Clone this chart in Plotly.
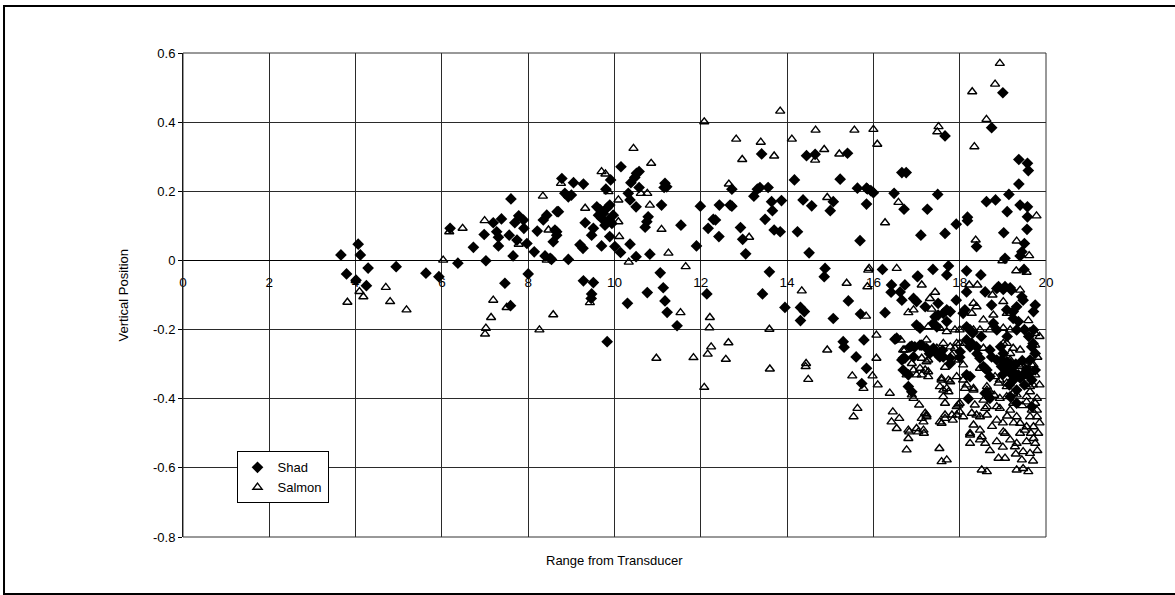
import plotly.graph_objects as go

# Shad detections: (range from transducer, vertical position)
shad = [
    (3.66, 0.016), (4.06, 0.047), (4.11, 0.016), (3.79, -0.039), (4.29, -0.022), (4.01, -0.057),
    (4.25, -0.073), (4.94, -0.018), (5.63, -0.037), (5.93, -0.047), (6.37, -0.008), (6.19, 0.093),
    (6.73, 0.038), (7.02, -0.001), (6.98, 0.075), (7.19, 0.109), (7.38, 0.12), (7.27, 0.083),
    (7.31, 0.067), (7.31, 0.042), (7.56, 0.073), (7.60, 0.178), (7.69, 0.109), (7.78, 0.129),
    (7.89, 0.117), (7.90, 0.093), (7.74, 0.059), (7.97, 0.049), (7.65, 0.013), (8.14, 0.025),
    (8.21, 0.085), (8.35, 0.117), (8.43, 0.131), (8.67, 0.141), (8.39, 0.013), (8.51, 0.006),
    (7.46, -0.066), (8.0, -0.039), (7.59, -0.131), (8.66, 0.083),
    (8.78, 0.237), (9.05, 0.225), (9.28, 0.221), (8.85, 0.194), (8.93, 0.184), (9.0, 0.189),
    (8.70, 0.141), (9.32, 0.109), (8.62, 0.088), (8.66, 0.073), (8.58, 0.054), (8.93, 0.003),
    (8.54, 0.003), (9.2, 0.045), (9.27, 0.035), (9.47, 0.073), (9.51, 0.093), (9.59, 0.155),
    (9.67, 0.146), (9.74, 0.136), (9.82, 0.151), (9.89, 0.160), (9.70, 0.122), (9.86, 0.117),
    (9.97, 0.131), (9.78, 0.102), (9.94, 0.107), (9.63, 0.131), (9.70, 0.042), (9.89, 0.069),
    (10.01, 0.040), (10.14, 0.023), (10.36, 0.047), (10.5, 0.011), (10.15, 0.271), (10.38, 0.225),
    (10.51, 0.252), (10.57, 0.257), (10.47, 0.240), (10.57, 0.211), (10.32, 0.194), (10.36, 0.175),
    (10.5, 0.155), (9.91, 0.233), (9.80, 0.206), (10.78, 0.126), (10.75, 0.112), (10.71, 0.096),
    (10.82, 0.018), (11.09, 0.160), (11.17, 0.223), (11.21, 0.213), (11.15, 0.211), (11.54, 0.102),
    (11.90, 0.042), (11.99, 0.157), (12.43, 0.160), (12.17, 0.093), (12.29, 0.119), (12.34, 0.117),
    (12.42, 0.069), (12.68, 0.160), (12.72, 0.157), (12.72, 0.206), (12.92, 0.095), (12.97, 0.061),
    (13.04, 0.019), (13.23, 0.186), (13.31, 0.206), (13.37, 0.211), (13.56, 0.211), (13.41, 0.308),
    (13.49, 0.119), (13.64, 0.170), (13.66, 0.144), (13.87, 0.173), (13.70, 0.088), (13.84, 0.083),
    (14.17, 0.233), (14.24, 0.083), (14.37, 0.175), (14.57, 0.158), (14.51, 0.022), (14.45, 0.303),
    (14.65, 0.307), (15.23, 0.235), (15.40, 0.310), (15.07, 0.170), (15.0, 0.144), (15.63, 0.209),
    (15.84, 0.209), (15.84, 0.163), (15.69, 0.057),
    (9.28, -0.059), (9.51, -0.064), (9.47, -0.097), (9.46, -0.11), (10.30, -0.124), (10.76, -0.093),
    (11.06, -0.036), (11.13, -0.079), (11.17, -0.117), (12.14, -0.097), (13.43, -0.097), (13.59, -0.033),
    (13.95, -0.136), (14.88, -0.023), (14.86, -0.047), (15.42, -0.117),
    (11.22, -0.150), (11.45, -0.189), (9.83, -0.235), (14.31, -0.136), (14.40, -0.148), (14.31, -0.174),
    (15.07, -0.168), (15.70, -0.155), (15.30, -0.235), (15.32, -0.251), (15.78, -0.230), (15.60, -0.279),
    (15.84, -0.312), (15.73, -0.356),
    (15.86, 0.207), (15.94, 0.202), (16.0, 0.196), (16.66, 0.254), (16.76, 0.254), (16.48, 0.194),
    (16.71, 0.148), (17.25, 0.148), (17.49, 0.191), (17.10, 0.073), (17.66, 0.078), (17.92, 0.105),
    (17.66, 0.360), (19.0, 0.485), (18.74, 0.384), (18.18, 0.125), (18.18, 0.115), (18.39, 0.040),
    (18.62, 0.170), (18.83, 0.175), (19.10, 0.141), (19.14, 0.191), (19.02, 0.080), (19.37, 0.292),
    (19.57, 0.281), (19.59, 0.260), (19.37, 0.221), (19.40, 0.160), (19.57, 0.155), (19.57, 0.126),
    (19.56, 0.090), (19.50, 0.049), (19.44, 0.025), (19.40, 0.013), (19.05, 0.006), (19.49, -0.026),
    (16.21, -0.026), (17.02, -0.047), (17.38, -0.026), (17.74, -0.016), (18.16, -0.030), (18.49, -0.042),
    (16.42, -0.071), (16.73, -0.071), (16.41, -0.092), (16.62, -0.091), (18.59, -0.091), (18.16, -0.091),
    (18.86, -0.081), (19.01, -0.084), (19.20, -0.086), (19.44, -0.105), (19.47, -0.115), (16.66, -0.115),
    (16.93, -0.110), (17.0, -0.119), (17.20, -0.134), (17.50, -0.124), (17.70, -0.143), (17.78, -0.148),
    (17.92, -0.115), (18.12, -0.143), (18.74, -0.129), (19.09, -0.143), (19.24, -0.148), (19.32, -0.134),
    (19.75, -0.129), (19.71, -0.148), (16.27, -0.151), (17.43, -0.163), (17.50, -0.158), (17.62, -0.153),
    (17.0, -0.187), (17.08, -0.196), (17.39, -0.182), (17.47, -0.192), (17.70, -0.177), (18.08, -0.153),
    (18.16, -0.192), (18.24, -0.201), (18.78, -0.182), (18.86, -0.201), (19.24, -0.168), (19.36, -0.177),
    (19.32, -0.201), (19.71, -0.201), (16.54, -0.225), (16.50, -0.228), (17.12, -0.245), (16.96, -0.250),
    (16.89, -0.248), (17.23, -0.254), (17.39, -0.259), (17.50, -0.274), (17.62, -0.279), (17.78, -0.283),
    (18.16, -0.230), (18.28, -0.240), (18.39, -0.250), (18.70, -0.259), (18.74, -0.279), (18.97, -0.288),
    (19.09, -0.293), (19.17, -0.298), (19.63, -0.288), (19.75, -0.269), (19.67, -0.250), (16.66, -0.288),
    (16.73, -0.283), (16.93, -0.279), (18.55, -0.307), (18.59, -0.312), (16.69, -0.317), (16.81, -0.331),
    (18.97, -0.307), (19.09, -0.317), (19.24, -0.322), (19.36, -0.331), (19.55, -0.317), (19.75, -0.317),
    (18.16, -0.331), (18.24, -0.336), (18.70, -0.336), (19.24, -0.346), (19.67, -0.346), (16.81, -0.365),
    (18.59, -0.384), (18.70, -0.399), (19.17, -0.394), (19.32, -0.413), (19.67, -0.423), (16.89, -0.380),
    (18.2, -0.40), (17.03, -0.045), (17.70, -0.042), (18.90, -0.076), (19.05, -0.076), (19.17, -0.079),
    (16.69, -0.283), (16.85, -0.250), (17.08, -0.245), (17.39, -0.254), (17.54, -0.279), (17.78, -0.298),
    (18.01, -0.264), (18.24, -0.250), (18.47, -0.283), (18.63, -0.317), (18.86, -0.288), (19.17, -0.317),
    (19.24, -0.346), (19.47, -0.331), (19.32, -0.375), (18.63, -0.384), (19.01, -0.269),
    (19.20, -0.330), (19.30, -0.300), (19.45, -0.290), (19.50, -0.360), (19.60, -0.330), (19.40, -0.340),
    (19.15, -0.360), (19.00, -0.330), (18.95, -0.250), (19.60, -0.220), (19.70, -0.240), (19.10, -0.220),
    (19.50, -0.200), (17.30, -0.270), (17.60, -0.260), (18.00, -0.280), (18.40, -0.270), (18.30, -0.210),
    (18.50, -0.220),
]

# Salmon detections: (range from transducer, vertical position)
salmon = [
    (3.81, -0.121), (4.09, -0.09), (4.18, -0.105), (4.0, -0.058), (4.70, -0.078), (4.80, -0.119),
    (5.18, -0.143), (6.03, 0.001), (6.17, 0.083), (6.48, 0.093), (6.99, 0.115), (7.19, -0.115),
    (7.14, -0.165), (7.02, -0.196), (7.0, -0.213), (7.50, -0.136), (7.78, 0.047), (8.26, -0.201),
    (8.58, -0.157), (8.34, 0.186), (8.43, 0.001), (8.47, 0.088),
    (8.76, 0.223), (9.32, 0.151), (9.70, 0.257), (9.79, 0.250), (9.86, 0.199), (10.09, 0.175),
    (10.09, 0.112), (10.11, 0.069), (10.33, -0.005), (10.44, 0.324), (10.61, 0.194), (10.76, 0.194),
    (10.82, 0.160), (10.85, 0.281), (11.09, 0.090), (11.25, 0.021), (11.65, -0.018), (12.08, 0.401),
    (12.65, 0.221), (12.82, 0.351), (12.96, 0.292), (13.12, 0.067), (13.39, 0.342), (13.70, 0.302),
    (13.84, 0.432), (14.11, 0.351), (14.34, -0.088), (14.66, 0.377), (14.65, 0.290), (14.86, 0.321),
    (14.93, 0.182), (15.21, 0.308), (15.56, 0.377), (15.38, -0.066), (15.88, -0.028),
    (9.43, -0.122), (11.53, -0.151), (10.97, -0.283), (11.83, -0.281), (12.21, -0.165), (12.20, -0.195),
    (12.24, -0.250), (12.16, -0.271), (12.64, -0.238), (12.58, -0.286), (12.08, -0.367), (13.59, -0.199),
    (13.60, -0.314), (14.44, -0.298), (14.43, -0.307), (14.49, -0.344), (14.93, -0.259), (15.51, -0.334),
    (15.83, -0.161), (15.98, -0.334), (15.77, -0.370), (15.63, -0.428), (15.54, -0.452), (16.07, -0.216),
    (16.07, -0.283), (16.1, -0.36),
    (18.93, 0.570), (18.82, 0.510), (18.29, 0.488), (18.62, 0.408), (18.34, 0.329), (17.51, 0.387),
    (17.48, 0.372), (16.0, 0.379), (16.09, 0.336), (16.58, 0.168), (16.27, 0.109), (19.78, 0.129),
    (18.37, 0.059), (19.32, 0.056), (19.61, 0.014), (18.99, -0.001), (19.31, -0.030), (19.55, -0.034),
    (15.90, -0.023), (16.54, -0.023),
    (15.86, -0.076), (17.12, -0.071), (17.43, -0.092), (18.22, -0.071), (18.41, -0.071), (18.76, -0.100),
    (19.40, -0.086), (16.81, -0.151), (16.93, -0.143), (17.31, -0.110), (17.35, -0.141), (18.32, -0.124),
    (18.39, -0.134), (18.28, -0.153), (19.01, -0.119), (19.09, -0.153), (18.55, -0.172), (18.78, -0.158),
    (19.59, -0.174), (16.63, -0.230), (17.27, -0.192), (17.54, -0.196), (17.70, -0.206), (17.89, -0.201),
    (18.0, -0.201), (18.32, -0.201), (18.47, -0.201), (18.70, -0.201), (19.01, -0.196), (19.17, -0.201),
    (19.63, -0.206), (19.75, -0.211), (16.73, -0.259), (17.23, -0.230), (17.47, -0.254), (17.78, -0.250),
    (17.89, -0.254), (18.0, -0.240), (18.55, -0.254), (19.09, -0.240), (19.24, -0.254), (19.40, -0.259),
    (19.75, -0.245), (17.12, -0.283), (17.27, -0.288), (17.66, -0.309), (18.08, -0.302), (18.47, -0.312),
    (19.17, -0.288), (19.44, -0.302), (19.67, -0.302), (16.77, -0.331), (17.0, -0.331), (17.12, -0.331),
    (17.27, -0.336), (16.93, -0.317), (17.20, -0.317), (17.58, -0.341), (17.74, -0.346), (17.93, -0.336),
    (18.08, -0.346), (18.12, -0.370), (18.32, -0.370), (17.54, -0.365), (17.70, -0.370), (18.82, -0.336),
    (18.93, -0.346), (19.09, -0.355), (19.32, -0.331), (19.47, -0.336), (19.75, -0.331), (19.63, -0.365),
    (16.38, -0.384), (16.89, -0.389), (16.93, -0.399), (18.63, -0.365), (18.70, -0.380), (19.24, -0.384),
    (16.45, -0.438), (16.42, -0.467), (16.60, -0.457), (16.54, -0.486), (17.06, -0.418), (17.20, -0.442),
    (17.23, -0.452), (17.16, -0.467), (16.83, -0.496), (16.81, -0.515), (17.04, -0.496), (17.17, -0.500),
    (16.77, -0.548), (17.66, -0.447), (17.58, -0.471), (17.84, -0.462), (18.0, -0.413), (17.93, -0.447),
    (18.08, -0.452), (17.53, -0.544), (17.58, -0.582), (17.70, -0.577), (18.24, -0.500), (18.24, -0.529),
    (18.47, -0.491), (18.51, -0.510), (18.59, -0.529), (18.39, -0.447), (18.63, -0.447), (18.35, -0.418),
    (18.86, -0.462), (18.86, -0.524), (18.90, -0.572), (19.05, -0.572), (18.51, -0.606), (18.63, -0.611),
    (19.05, -0.500), (19.17, -0.519), (19.28, -0.539), (19.32, -0.606), (19.47, -0.602), (19.59, -0.611),
    (19.44, -0.577), (19.63, -0.558), (19.47, -0.553), (19.75, -0.529), (19.82, -0.500), (19.71, -0.481),
    (19.79, -0.452), (19.67, -0.433), (19.75, -0.413), (19.17, -0.433), (19.32, -0.452), (19.40, -0.471),
    (19.51, -0.491), (19.55, -0.524), (19.09, -0.394), (19.24, -0.413), (19.55, -0.394), (19.63, -0.380),
    (18.55, -0.404), (18.63, -0.423), (18.93, -0.399), (18.86, -0.423), (17.62, -0.394), (17.66, -0.413),
    (17.93, -0.423),
    (16.69, -0.259), (16.89, -0.298), (17.08, -0.312), (17.27, -0.322), (17.23, -0.293), (17.62, -0.240),
    (17.93, -0.240), (18.12, -0.240), (17.82, -0.274), (17.97, -0.288), (17.58, -0.346), (17.78, -0.351),
    (17.62, -0.375), (17.74, -0.380), (18.16, -0.360), (18.32, -0.375), (18.63, -0.375), (18.70, -0.394),
    (19.01, -0.240), (19.17, -0.269), (19.40, -0.307), (19.55, -0.307), (19.71, -0.302), (18.90, -0.355),
    (19.09, -0.365), (19.32, -0.389), (19.55, -0.409), (19.79, -0.399), (16.81, -0.491), (17.00, -0.486),
    (17.16, -0.491), (17.12, -0.457), (17.23, -0.447), (17.54, -0.467), (17.66, -0.457), (17.82, -0.447),
    (17.97, -0.418), (18.00, -0.438), (18.28, -0.442), (18.47, -0.452), (18.32, -0.476), (18.59, -0.428),
    (18.93, -0.428), (18.24, -0.505), (18.47, -0.519), (19.01, -0.496), (19.32, -0.529), (19.55, -0.481),
    (19.63, -0.452), (19.79, -0.433), (19.71, -0.515),
    (19.85, -0.470), (19.80, -0.550), (19.70, -0.580), (19.85, -0.360), (19.80, -0.280), (19.85, -0.220),
    (19.70, -0.360), (19.65, -0.500), (19.40, -0.500), (19.25, -0.470), (19.10, -0.450), (19.00, -0.470),
    (18.75, -0.480), (18.80, -0.390), (19.45, -0.420), (19.30, -0.560), (19.00, -0.540), (18.70, -0.550),
]

shad_x = [p[0] for p in shad]
shad_y = [p[1] for p in shad]
salmon_x = [p[0] for p in salmon]
salmon_y = [p[1] for p in salmon]

x_ticks = [0, 2, 4, 6, 8, 10, 12, 14, 16, 18, 20]
y_ticks = [0.6, 0.4, 0.2, 0, -0.2, -0.4, -0.6, -0.8]
y_tick_text = ["0.6", "0.4", "0.2", "0", "-0.2", "-0.4", "-0.6", "-0.8"]

FONT = "Arial, Liberation Sans, sans-serif"
GRID = "#2a2a2a"

fig = go.Figure()
fig.add_trace(go.Scatter(
    x=shad_x, y=shad_y, mode="markers", name="Shad",
    marker=dict(symbol="diamond", size=9, color="black", line=dict(width=0)),
))
fig.add_trace(go.Scatter(
    x=salmon_x, y=salmon_y, mode="markers", name="Salmon",
    marker=dict(symbol="triangle-up-open", size=8, color="black", line=dict(width=1.4, color="black")),
))

y_min, y_max = -0.8, 0.6

fig.update_layout(
    width=1175, height=595,
    margin=dict(l=183, r=129, t=53, b=58),
    paper_bgcolor="white", plot_bgcolor="white",
    font=dict(family=FONT, size=13, color="black"),
    showlegend=True,
    legend=dict(
        x=0.062, y=0.177, xanchor="left", yanchor="top",
        bordercolor="black", borderwidth=1, bgcolor="white",
        font=dict(family=FONT, size=13, color="black"),
        itemwidth=30, tracegroupgap=0,
    ),
    xaxis=dict(
        range=[0, 20], tickvals=x_ticks, ticktext=[str(v) for v in x_ticks],
        showgrid=True, gridcolor=GRID, gridwidth=1,
        zeroline=False, showline=True, linecolor="black", linewidth=1,
        anchor="free", position=(0 - y_min) / (y_max - y_min),
        ticks="", ticklabelstandoff=9,
        tickfont=dict(family=FONT, size=13.5, color="black"),
    ),
    yaxis=dict(
        range=[y_min, y_max], tickvals=y_ticks, ticktext=y_tick_text,
        showgrid=True, gridcolor=GRID, gridwidth=1,
        zeroline=True, zerolinecolor="black", zerolinewidth=1,
        showline=True, linecolor="black", linewidth=1,
        ticks="outside", ticklen=4, tickcolor="black",
        tickfont=dict(family=FONT, size=13, color="black"),
    ),
    shapes=[
        # plot-area frame
        dict(type="rect", xref="paper", yref="paper", x0=0, y0=0, x1=1, y1=1,
             line=dict(color="#333333", width=1)),
        # outer chart frame
        dict(type="rect", xref="paper", yref="paper",
             x0=-0.2074, y0=-0.1178, x1=1.25, y1=1.097,
             line=dict(color="black", width=2)),
    ],
    annotations=[
        dict(text="Vertical Position", xref="paper", yref="paper",
             x=-0.080, y=0.5, textangle=-90, showarrow=False,
             font=dict(family=FONT, size=13, color="black")),
        dict(text="Range from Transducer", xref="paper", yref="paper",
             x=0.5, y=-0.049, showarrow=False, yanchor="middle",
             font=dict(family=FONT, size=13, color="black")),
    ],
)

fig.write_html("out.html")
